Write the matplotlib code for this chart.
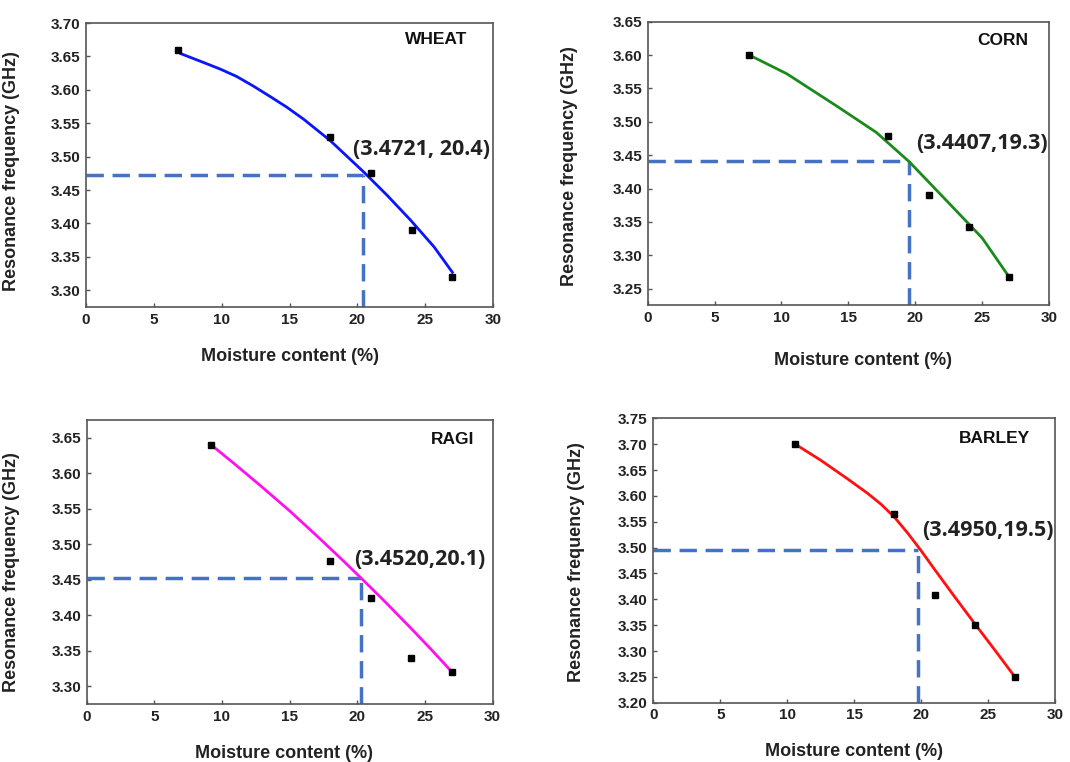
import matplotlib
matplotlib.use("Agg")
import matplotlib.pyplot as plt

plt.rcParams['font.family'] = ['Liberation Sans', 'DejaVu Sans']

# ---------------- data ----------------
wheat_x = [6.8, 18, 21, 24, 27]
wheat_y = [3.66, 3.53, 3.475, 3.39, 3.32]
wheat_fit_x = [7.0, 8.65, 9.9, 11.1, 12.3, 13.57, 14.8, 16.04, 18.0, 20.47, 22.2, 23.92, 25.65, 27.0]
wheat_fit_y = [3.654, 3.641, 3.631, 3.620, 3.606, 3.590, 3.574, 3.556, 3.524, 3.477, 3.442, 3.405, 3.365, 3.327]
wheat_mark = (20.45, 3.4721)
wheat_note = "(3.4721, 20.4)"

corn_x = [7.6, 18, 21, 24, 27]
corn_y = [3.60, 3.478, 3.390, 3.343, 3.268]
corn_fit_x = [7.6, 10.4, 14.1, 17.1, 19.56, 22.0, 25.0, 27.0]
corn_fit_y = [3.600, 3.572, 3.524, 3.484, 3.440, 3.389, 3.326, 3.268]
corn_mark = (19.56, 3.4407)
corn_note = "(3.4407,19.3)"

ragi_x = [9.2, 18, 21, 24, 27]
ragi_y = [3.64, 3.477, 3.424, 3.34, 3.32]
ragi_fit_x = [9.2, 11, 13, 15, 17, 19, 20.3, 22, 24, 25.5, 27]
ragi_fit_y = [3.640, 3.612, 3.580, 3.547, 3.512, 3.476, 3.452, 3.420, 3.381, 3.351, 3.320]
ragi_mark = (20.27, 3.452)
ragi_note = "(3.4520,20.1)"

barley_x = [10.6, 18, 21, 24, 27]
barley_y = [3.70, 3.565, 3.408, 3.35, 3.25]
barley_fit_x = [10.6, 12.5, 14.5, 16, 17, 18, 19, 20, 21, 22.5, 24, 25.5, 27]
barley_fit_y = [3.700, 3.669, 3.633, 3.605, 3.584, 3.559, 3.528, 3.494, 3.458, 3.405, 3.353, 3.302, 3.250]
barley_mark = (19.78, 3.495)
barley_note = "(3.4950,19.5)"

xticks = [0, 5, 10, 15, 20, 25, 30]

panels = [
    dict(name="WHEAT", x=wheat_x, y=wheat_y, fx=wheat_fit_x, fy=wheat_fit_y, color="#0a14ff",
         mark=wheat_mark, note=wheat_note, ylim=(3.275, 3.70),
         yticks=[3.30, 3.35, 3.40, 3.45, 3.50, 3.55, 3.60, 3.65, 3.70],
         rect=[0.0804, 0.5971, 0.3804, 0.3727], name_pos=(23.5, 3.675), note_pos=(19.65, 3.51),
         xlab=(0.501, -0.144), ylab=(-0.162, 0.479)),
    dict(name="CORN", x=corn_x, y=corn_y, fx=corn_fit_x, fy=corn_fit_y, color="#1a8a1a",
         mark=corn_mark, note=corn_note, ylim=(3.225, 3.65),
         yticks=[3.25, 3.30, 3.35, 3.40, 3.45, 3.50, 3.55, 3.60, 3.65],
         rect=[0.6053, 0.5993, 0.3751, 0.3722], name_pos=(24.6, 3.622), note_pos=(20.1, 3.468),
         xlab=(0.536, -0.165), ylab=(-0.174, 0.491)),
    dict(name="RAGI", x=ragi_x, y=ragi_y, fx=ragi_fit_x, fy=ragi_fit_y, color="#ff10f0",
         mark=ragi_mark, note=ragi_note, ylim=(3.275, 3.675),
         yticks=[3.30, 3.35, 3.40, 3.45, 3.50, 3.55, 3.60, 3.65],
         rect=[0.0810, 0.0761, 0.3794, 0.3727], name_pos=(25.4, 3.647), note_pos=(19.8, 3.478),
         xlab=(0.486, -0.146), ylab=(-0.164, 0.466)),
    dict(name="BARLEY", x=barley_x, y=barley_y, fx=barley_fit_x, fy=barley_fit_y, color="#ff1010",
         mark=barley_mark, note=barley_note, ylim=(3.20, 3.75),
         yticks=[3.20, 3.25, 3.30, 3.35, 3.40, 3.45, 3.50, 3.55, 3.60, 3.65, 3.70, 3.75],
         rect=[0.6106, 0.0778, 0.3754, 0.3732], name_pos=(22.8, 3.711), note_pos=(20.04, 3.534),
         xlab=(0.50, -0.142), ylab=(-0.170, 0.496)),
]

fig = plt.figure(figsize=(10.7, 7.62), dpi=100)
dash_color = "#4472c4"

for p in panels:
    ax = fig.add_axes(p["rect"])
    ax.set_xlim(0, 30)
    ax.set_ylim(*p["ylim"])
    ax.set_xticks(xticks)
    ax.set_yticks(p["yticks"])
    ax.set_yticklabels([f"{v:.2f}" for v in p["yticks"]])
    ax.tick_params(direction="in", length=3, width=1, color="#555555",
                   labelsize=11, pad=4)
    for lab in ax.get_xticklabels() + ax.get_yticklabels():
        lab.set_fontweight("bold")
        lab.set_color("#222222")
    for s in ax.spines.values():
        s.set_color("#555555")
        s.set_linewidth(1.2)

    mx, my = p["mark"]
    ax.plot([0, mx], [my, my], color=dash_color, lw=2.5, dashes=(5, 2.5), zorder=2)
    ax.plot([mx, mx], [p["ylim"][0], my], color=dash_color, lw=2.5, dashes=(5, 2.5), zorder=2)

    ax.plot(p["fx"], p["fy"], color=p["color"], lw=2.0, zorder=3,
            solid_joinstyle="round")
    ax.plot(p["x"], p["y"], linestyle="none", marker="s", markersize=5,
            color="black", zorder=4)

    ax.text(p["name_pos"][0], p["name_pos"][1], p["name"], fontsize=12.5,
            fontweight="bold", ha="left", va="center", color="#111111")
    ax.text(p["note_pos"][0], p["note_pos"][1], p["note"], fontsize=15.5,
            family=["Open Sans", "DejaVu Sans"], fontweight="bold",
            ha="left", va="center", color="#222222")

    ax.set_xlabel("Moisture content (%)", fontsize=13, fontweight="bold", color="#222222")
    ax.set_ylabel("Resonance frequency (GHz)", fontsize=13, fontweight="bold", color="#222222")
    ax.xaxis.set_label_coords(*p["xlab"])
    ax.yaxis.set_label_coords(*p["ylab"])

fig.savefig("out.png", dpi=100)
